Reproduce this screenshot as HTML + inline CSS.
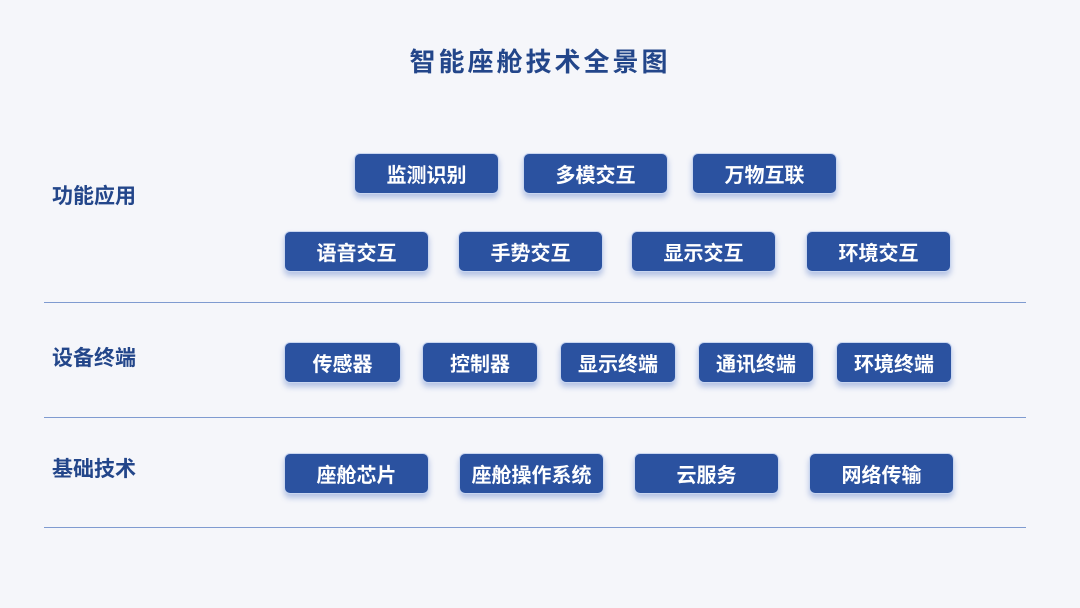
<!DOCTYPE html>
<html><head><meta charset="utf-8"><style>
body{margin:0;width:1080px;height:608px;background:#f5f6fa;position:relative;overflow:hidden;font-family:"Liberation Sans","Noto Sans CJK SC",sans-serif;}
.t{position:absolute;left:0;width:1080px;top:42px;text-align:center;font-size:26px;font-weight:bold;color:#23468a;letter-spacing:3px;}
.l{position:absolute;left:52px;font-size:21px;font-weight:bold;color:#23468a;line-height:24px;}
.h{position:absolute;left:44px;width:982px;height:1px;background:#7f9bd0;}
.b{position:absolute;height:41px;box-sizing:border-box;background:#2b52a0;border:1.5px solid #c9d6f0;border-radius:6px;color:#fff;font-size:20px;font-weight:bold;display:flex;align-items:center;justify-content:center;box-shadow:0 4px 6px rgba(60,100,190,0.35);}
</style></head><body>
<div class="t">智能座舱技术全景图</div>
<div class="l" style="top:185px">功能应用</div>
<div class="l" style="top:347px">设备终端</div>
<div class="l" style="top:458px">基础技术</div>
<div class="h" style="top:302px"></div>
<div class="h" style="top:417px"></div>
<div class="h" style="top:527px"></div>
<div class="b" style="left:354px;top:153px;width:145px">监测识别</div>
<div class="b" style="left:523px;top:153px;width:145px">多模交互</div>
<div class="b" style="left:692px;top:153px;width:145px">万物互联</div>
<div class="b" style="left:284px;top:231px;width:145px">语音交互</div>
<div class="b" style="left:458px;top:231px;width:145px">手势交互</div>
<div class="b" style="left:631px;top:231px;width:145px">显示交互</div>
<div class="b" style="left:806px;top:231px;width:145px">环境交互</div>
<div class="b" style="left:284px;top:342px;width:117px">传感器</div>
<div class="b" style="left:422px;top:342px;width:116px">控制器</div>
<div class="b" style="left:560px;top:342px;width:116px">显示终端</div>
<div class="b" style="left:698px;top:342px;width:116px">通讯终端</div>
<div class="b" style="left:836px;top:342px;width:116px">环境终端</div>
<div class="b" style="left:284px;top:453px;width:145px">座舱芯片</div>
<div class="b" style="left:459px;top:453px;width:145px">座舱操作系统</div>
<div class="b" style="left:634px;top:453px;width:145px">云服务</div>
<div class="b" style="left:809px;top:453px;width:145px">网络传输</div>
</body></html>
